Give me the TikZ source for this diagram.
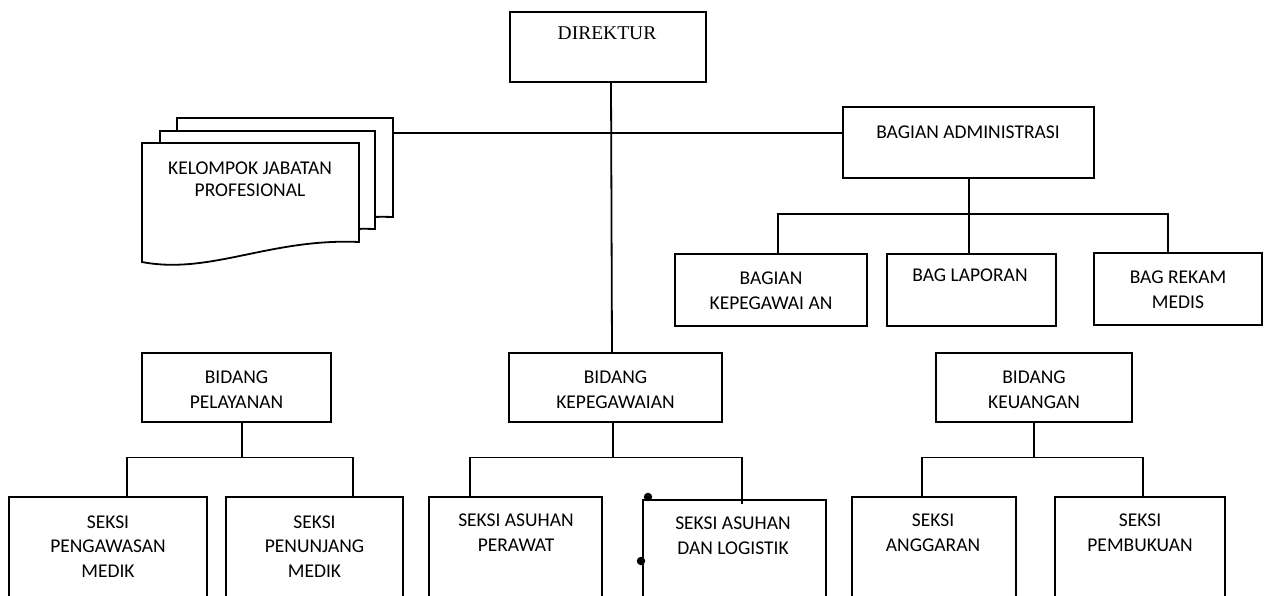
\documentclass[tikz,border=0pt]{standalone}
\usepackage{fontspec}
\setmainfont{Carlito}
\newfontfamily\serifdir{Liberation Serif}
\usetikzlibrary{calc}
\tikzset{
  box/.style={draw, line width=1.8pt, outer sep=0pt, inner sep=0pt, anchor=north west},
  txt/.style={font=\fontsize{19.5}{24.5}\selectfont, align=center, inner sep=0pt, anchor=north},
  conn/.style={line width=1.8pt},
  sheet/.style={draw, fill=white, line width=1.8pt},
  dotmark/.style={circle, fill=black, inner sep=0pt, minimum size=8.5pt}
}
\begin{document}
\begin{tikzpicture}[x=1pt,y=-1pt]
\useasboundingbox (0,0) rectangle (1264,595);
\clip (0,0) rectangle (1264,595);

% DIREKTUR
\node[box, minimum width=196, minimum height=70] (dir) at (510,12) {};
\node[txt, font=\serifdir\fontsize{19.5}{24}\selectfont] (dirt) at (607,26.5) {DIREKTUR};

% Kelompok jabatan profesional (stacked documents)
\filldraw[sheet] (177,118) -- (393,118) -- (393,217) .. controls (304,214) and (245,250) .. (177,237) -- cycle;
\filldraw[sheet] (160,131) -- (375,131) -- (375,229) .. controls (286,226) and (228,262) .. (160,250) -- cycle;
\filldraw[sheet] (142,143) -- (359,143) -- (359,242) .. controls (270,238) and (210,275) .. (142,262) -- cycle;
\node[txt, font=\fontsize{19.5}{22}\selectfont] (kel) at (250,161.7) {KELOMPOK JABATAN\\PROFESIONAL};
\coordinate (kelR) at (393,133);

% Bagian administrasi
\node[box, minimum width=251, minimum height=71] (admin) at (843,107) {};
\node[txt] (admint) at (968,125.8) {BAGIAN ADMINISTRASI};

\node[box, minimum width=192, minimum height=72] (bkep) at (675,254) {};
\node[txt] (bkept) at (771,271.7) {BAGIAN\\KEPEGAWAI AN};
\node[box, minimum width=169, minimum height=72] (blap) at (887,254) {};
\node[txt] (blapt) at (970,268.7) {BAG LAPORAN};
\node[box, minimum width=168, minimum height=72] (brek) at (1094,253) {};
\node[txt] (brekt) at (1178,270.7) {BAG REKAM\\MEDIS};

% Bidang
\node[box, minimum width=189, minimum height=69] (bpel) at (142,353) {};
\node[txt] (bpelt) at (236.5,370.7) {BIDANG\\PELAYANAN};
\node[box, minimum width=213, minimum height=69] (bkp) at (509,353) {};
\node[txt] (bkpt) at (615.5,370.7) {BIDANG\\KEPEGAWAIAN};
\node[box, minimum width=196, minimum height=69] (bkeu) at (936,353) {};
\node[txt] (bkeut) at (1034,370.7) {BIDANG\\KEUANGAN};

% Seksi
\node[box, minimum width=198, minimum height=110] (spm) at (9,497) {};
\node[txt] (spmt) at (108,515.4) {SEKSI\\PENGAWASAN\\MEDIK};
\node[box, minimum width=177, minimum height=110] (spj) at (226,497) {};
\node[txt] (spjt) at (314.5,515.4) {SEKSI\\PENUNJANG\\MEDIK};
\node[box, minimum width=173, minimum height=110] (sap) at (429,497) {};
\node[txt] (sapt) at (516,513.7) {SEKSI ASUHAN\\PERAWAT};
\node[box, minimum width=183, minimum height=110] (sal) at (643,500) {};
\node[txt] (salt) at (733,516.7) {SEKSI ASUHAN\\DAN LOGISTIK};
\node[box, minimum width=164, minimum height=110] (sang) at (852,497) {};
\node[txt] (sangt) at (933,513.7) {SEKSI\\ANGGARAN};
\node[box, minimum width=170, minimum height=110] (spb) at (1055,497) {};
\node[txt] (spbt) at (1140,513.7) {SEKSI\\PEMBUKUAN};

\node[dotmark] (dot1) at (648,497) {};
\node[dotmark] (dot2) at (641,561) {};

% Connectors
\coordinate (adminbar) at (969,214);
\coordinate (kpbar) at (613,457.5);
\coordinate (pelbar) at (242,457.5);
\coordinate (keubar) at (1034,457.5);

\draw[conn] ([xshift=3]dir.south) -- ([xshift=-3.5]bkp.north);
\draw[conn] (kelR) -- (admin.west |- kelR);

\draw[conn] ([xshift=0.5]admin.south) -- ([xshift=0.5]admin.south |- blap.north);
\draw[conn] ([xshift=7]bkep.north) |- (adminbar) -| ([xshift=-10]brek.north);

\draw[conn] ([xshift=-2.5]bkp.south) -- (kpbar);
\draw[conn] ([xshift=-45.5]sap.north) |- (kpbar) -| ([xshift=7.5,yshift=-4]sal.north);

\draw[conn] ([xshift=5.5]bpel.south) -- (pelbar);
\draw[conn] ([xshift=19]spm.north) |- (pelbar) -| ([xshift=38.5]spj.north);

\draw[conn] (bkeu.south) -- (keubar);
\draw[conn] ([xshift=-12]sang.north) |- (keubar) -| ([xshift=3]spb.north);
\end{tikzpicture}
\end{document}
